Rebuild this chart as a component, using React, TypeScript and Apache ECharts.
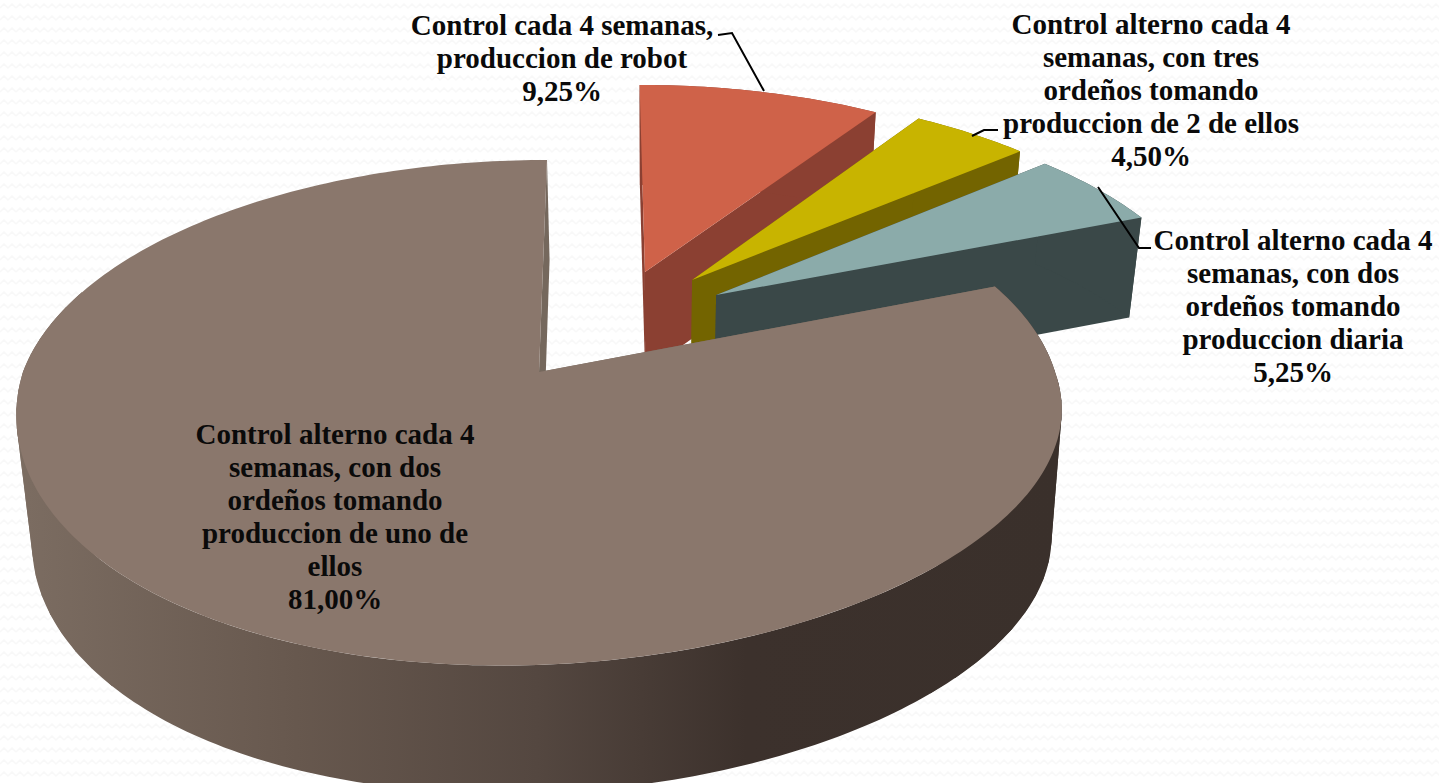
import React, { useEffect, useRef } from "react";
import * as echarts from "echarts";

const sliceNames = [
  "Control cada 4 semanas,\nproduccion de robot",
  "Control alterno cada 4\nsemanas, con tres\nordeños tomando\nproduccion de 2 de ellos",
  "Control alterno cada 4\nsemanas, con dos\nordeños tomando\nproduccion diaria",
  "Control alterno cada 4\nsemanas, con dos\nordeños tomando\nproduccion de uno de\nellos",
];
const sliceValues = [9.25, 4.5, 5.25, 81.0];
const valueLabels = ["9,25%", "4,50%", "5,25%", "81,00%"];
const topColors = ["#CF6249", "#C8B400", "#8BABAA", "#8A776C"];
const wallColors = ["#8B4032", "#736400", "#3A4848", "#75685D"];

// view geometry of the tilted disc
const CX = 539, CY = 372, RX = 516, RY = 246, K = 0.16, XV = 650;
const explode: [number, number][] = [[0.2124, -0.4348], [0.309, -0.3978], [0.356, -0.3295], [0, 0]];
const labelX = [562, 1151, 1293, 335];
const labelY = [8, 7, 223, 417];

function project(u: number, v: number, z: number): [number, number] {
  const s = 1 / (1 - K * v);
  let x = CX + RX * u * s + 8 * Math.max(0, -v);
  let y = CY + RY * v * s;
  y += -0.035 * (x - CX) * Math.max(0, v);
  if (z) {
    x = XV + (x - XV) * (1 - 0.025 * z);
    const t = Math.min(1, Math.max(0, (v + 0.3) / 0.4));
    y += z * (100 + 28 * t);
  }
  return [x, y];
}

function rim(o: [number, number], deg: number, z: number): [number, number] {
  const a = (deg * Math.PI) / 180;
  return project(o[0] + Math.sin(a), o[1] - Math.cos(a), z);
}

function arc(o: [number, number], a0: number, a1: number, z: number) {
  const pts: [number, number][] = [];
  const n = Math.max(2, Math.ceil(a1 - a0));
  for (let i = 0; i <= n; i++) pts.push(rim(o, a0 + ((a1 - a0) * i) / n, z));
  return pts;
}

const total = sliceValues.reduce((a, b) => a + b, 0);

function renderSlice(params: any, api: any) {
  const i = params.dataIndex;
  let before = 0;
  for (let j = 0; j < i; j++) before += sliceValues[j];
  const a0 = (before / total) * 360;
  const a1 = a0 + (api.value(0) / total) * 360;
  const o = explode[i];
  const apex0 = project(o[0], o[1], 0);
  const apex1 = project(o[0], o[1], 1);
  const poly = (points: [number, number][], fill: any) => ({
    type: "polygon",
    shape: { points },
    style: { fill, stroke: "none" },
    silent: true,
  });
  const children: any[] = [];
  const wall = wallColors[i];
  children.push(poly([apex0, rim(o, a0, 0), rim(o, a0, 1), apex1], wall));
  children.push(poly([apex0, rim(o, a1, 0), rim(o, a1, 1), apex1], wall));
  const side =
    i === 3
      ? new echarts.graphic.LinearGradient(
          14, 0, 1060, 0,
          [
            { offset: 0, color: "#7C6D62" },
            { offset: 0.27, color: "#67584E" },
            { offset: 0.5, color: "#544740" },
            { offset: 0.7, color: "#3C312C" },
            { offset: 1, color: "#3A302B" },
          ],
          true
        )
      : wall;
  if (i === 3) {
    // flanks: overlapping strips so the silhouette runs straight from the top rim to the bottom rim
    const flanks = [[85, 130], [230, 285]];
    for (const [f0, f1] of flanks) {
      for (let d = f0; d < f1; d += 4) {
        children.push(poly([rim(o, d, 0), rim(o, d + 8, 0), rim(o, d + 8, 1), rim(o, d, 1)], side));
      }
    }
  }
  // the far part of the large slice's outer wall is hidden behind its own top
  const sideEnd = i === 3 ? 290 : a1;
  children.push(poly([...arc(o, a0, sideEnd, 0), ...arc(o, a0, sideEnd, 1).reverse()], side));
  children.push(poly([apex0, ...arc(o, a0, a1, 0)], topColors[i]));
  return { type: "group", children };
}

const wave =
  "url(\"data:image/svg+xml;utf8,<svg xmlns='http://www.w3.org/2000/svg' width='16' height='12'><path d='M0 8 L4 4 L8 8 L12 4 L16 8' fill='none' stroke='%23f8f8f8' stroke-width='1.5'/></svg>\")";

export default function App() {
  const ref = useRef<HTMLDivElement>(null);
  useEffect(() => {
    document.body.style.margin = "0";
    const chart = echarts.init(ref.current!, null, { renderer: "svg" });
    const font = { fontFamily: "Liberation Serif", fontWeight: "bold", fontSize: 29, lineHeight: 33, fill: "#0A0A0A" };
    const leaders = [
      [[718, 35], [732, 33], [764, 91]],
      [[972, 136], [984, 130], [998, 130]],
      [[1098, 187], [1139, 248], [1151, 248]],
    ];
    chart.setOption({
      animation: false,
      backgroundColor: "transparent",
      series: [
        {
          type: "custom",
          coordinateSystem: "none",
          renderItem: renderSlice,
          silent: true,
          data: sliceValues.map((v) => [v]),
          z: 1,
        },
      ],
      graphic: [
        ...leaders.map((points) => ({
          type: "polyline",
          z: 10,
          shape: { points },
          style: { stroke: "#000", lineWidth: 2, fill: "none" },
        })),
        ...sliceNames.map((name, i) => ({
          type: "text",
          z: 11,
          x: labelX[i],
          y: labelY[i],
          style: { ...font, text: name + "\n" + valueLabels[i], align: "center", verticalAlign: "top" },
        })),
      ],
    });
    return () => chart.dispose();
  }, []);
  return (
    <div style={{ position: "absolute", left: 0, top: 0, width: 1439, height: 783, overflow: "hidden", backgroundColor: "#fff", backgroundImage: wave }}>
      <div ref={ref} style={{ width: 1439, height: 783 }} />
    </div>
  );
}
